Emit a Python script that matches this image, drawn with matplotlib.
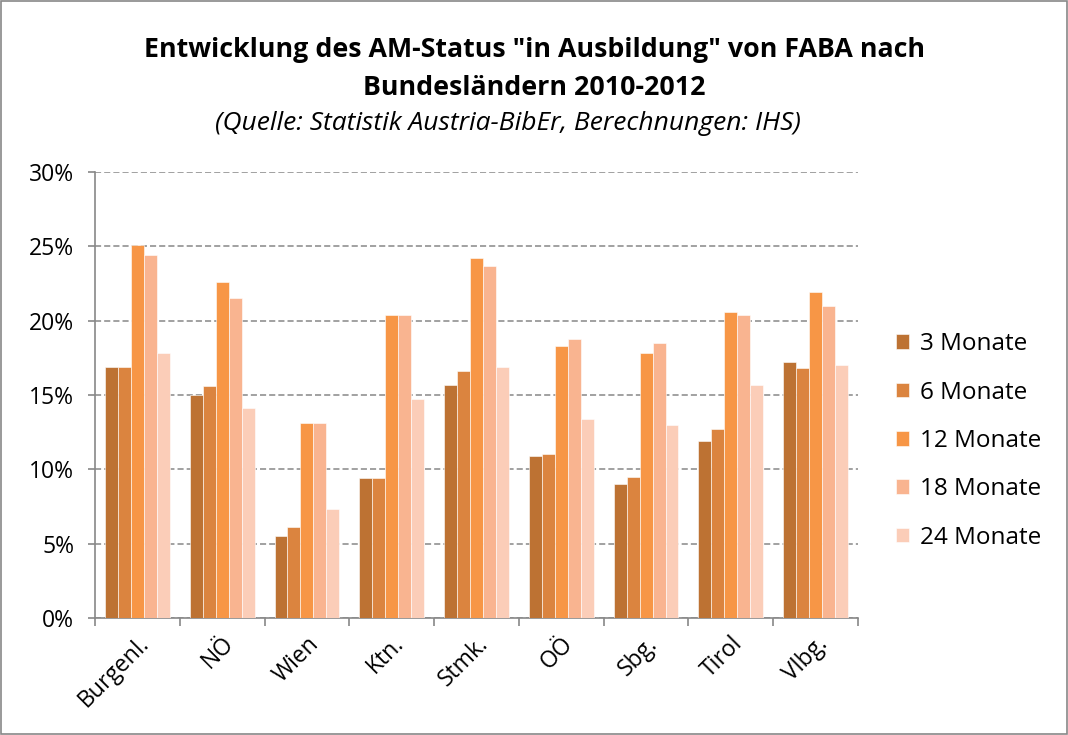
import numpy as np
import matplotlib
matplotlib.use("Agg")
import matplotlib.pyplot as plt
from matplotlib.patches import Rectangle

# Entwicklung AM-Status "in Ausbildung" nach Bundesländern
regions = ['Burgenl.', 'NÖ', 'Wien', 'Ktn.', 'Stmk.', 'OÖ', 'Sbg.', 'Tirol', 'Vlbg.']
series_names = ['3 Monate', '6 Monate', '12 Monate', '18 Monate', '24 Monate']

m3 = [16.9, 15.0, 5.5, 9.4, 15.7, 10.9, 9.0, 11.9, 17.2]
m6 = [16.9, 15.6, 6.1, 9.4, 16.6, 11.0, 9.5, 12.7, 16.8]
m12 = [25.1, 22.6, 13.1, 20.4, 24.2, 18.3, 17.8, 20.6, 21.9]
m18 = [24.4, 21.5, 13.1, 20.4, 23.7, 18.8, 18.5, 20.4, 21.0]
m24 = [17.8, 14.1, 7.3, 14.7, 16.9, 13.4, 13.0, 15.7, 17.0]

colors = ['#BD7233', '#DB843F', '#F79646', '#F9B490', '#FBCDB8']

plt.rcParams['font.family'] = ['Open Sans', 'DejaVu Sans']

fig = plt.figure(figsize=(10.68, 7.35), dpi=100)
ax = fig.add_axes([95 / 1068, 1 - 618 / 735, (858 - 95) / 1068, (618 - 172) / 735])

x = np.arange(len(regions))
w = 0.153
for i, (vals, name) in enumerate(zip([m3, m6, m12, m18, m24], series_names)):
    ax.bar(x + (i - 2) * w, vals, width=w, color=colors[i], label=name,
           edgecolor='white', linewidth=0.4, zorder=3)

ax.set_xlim(-0.5, len(regions) - 0.5)
ax.set_ylim(0, 30)
ax.set_yticks(range(0, 31, 5))
ax.set_yticklabels([f'{v}%' for v in range(0, 31, 5)], fontsize=16.5)
ax.yaxis.grid(True, linestyle=(0, (4, 2)), color='#888888', linewidth=1.1, zorder=0)

ax.set_xticks(x)
ax.set_xticklabels(regions, rotation=45, ha='right', rotation_mode='anchor', fontsize=16.5)
ax.tick_params(axis='x', length=0, pad=10)
ax.set_xticks(np.arange(-0.5, len(regions), 1), minor=True)
ax.tick_params(axis='x', which='minor', length=6, color='#888888', width=1.2)
ax.tick_params(axis='y', length=5, color='#888888', width=1.2, pad=10)

for side in ['top', 'right']:
    ax.spines[side].set_visible(False)
for side in ['left', 'bottom']:
    ax.spines[side].set_color('#888888')
    ax.spines[side].set_linewidth(1.2)

fig.text(0.5, 1 - 50 / 735, 'Entwicklung des AM-Status "in Ausbildung" von FABA nach',
         ha='center', va='center', fontsize=19.3, fontweight='bold')
fig.text(0.5, 1 - 88 / 735, 'Bundesländern 2010-2012',
         ha='center', va='center', fontsize=19.3, fontweight='bold')
fig.text(0.476, 1 - 124 / 735, '(Quelle: Statistik Austria-BibEr, Berechnungen: IHS)',
         ha='center', va='center', fontsize=19, style='italic')

leg = fig.legend(loc='center left', bbox_to_anchor=(874 / 1068, 1 - 441 / 735),
                 frameon=False, fontsize=17.5, labelspacing=1.0, handlelength=0.55,
                 handleheight=0.55, handletextpad=0.45)

fig.patches.append(Rectangle((0.001, 0.001), 0.998, 0.998, transform=fig.transFigure,
                             fill=False, edgecolor='#888888', linewidth=1.2))

fig.savefig('out.png', dpi=100)
